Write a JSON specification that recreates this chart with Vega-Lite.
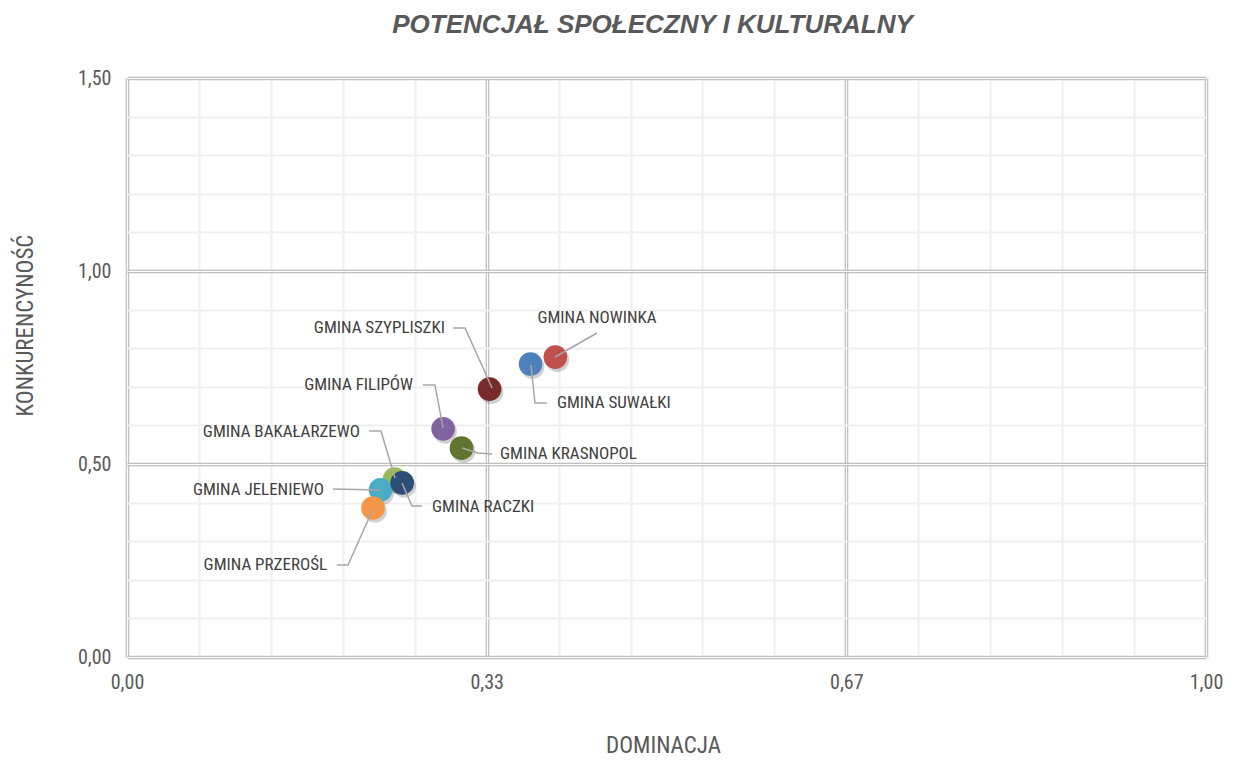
{
  "$schema": "https://vega.github.io/schema/vega-lite/v6.json",
  "width": 1079,
  "height": 579,
  "autosize": {"type": "none"},
  "padding": {"left": 127, "top": 78, "right": 30, "bottom": 103},
  "background": "white",
  "title": {
    "text": "POTENCJAŁ SPOŁECZNY I KULTURALNY",
    "font": "Liberation Sans",
    "fontSize": 26,
    "fontStyle": "italic",
    "fontWeight": "bold",
    "color": "#595959",
    "anchor": "middle",
    "dx": -14,
    "offset": 30
  },
  "config": {
    "view": {"stroke": null},
    "axis": {"labelFont": "Liberation Sans Narrow, Roboto Condensed, DejaVu Sans Condensed, Roboto, sans-serif", "titleFont": "Liberation Sans Narrow, Roboto Condensed, DejaVu Sans Condensed, Roboto, sans-serif"}
  },
  "resolve": {"axis": {"x": "independent", "y": "independent"}},
  "datasets": {
    "points": [
      {"gmina": "Gmina Bakałarzewo", "x": 0.248, "y": 0.461},
      {"gmina": "Gmina Jeleniewo", "x": 0.235, "y": 0.433},
      {"gmina": "Gmina Przerośl", "x": 0.228, "y": 0.386},
      {"gmina": "Gmina Raczki", "x": 0.255, "y": 0.451},
      {"gmina": "Gmina Filipów", "x": 0.293, "y": 0.591},
      {"gmina": "Gmina Krasnopol", "x": 0.310, "y": 0.541},
      {"gmina": "Gmina Suwałki", "x": 0.374, "y": 0.759},
      {"gmina": "Gmina Nowinka", "x": 0.397, "y": 0.777},
      {"gmina": "Gmina Szypliszki", "x": 0.336, "y": 0.694}
    ],
    "labels": [
      {"gmina": "Gmina Nowinka", "text": "GMINA NOWINKA", "x": 0.4356, "y": 0.878},
      {"gmina": "Gmina Suwałki", "text": "GMINA SUWAŁKI", "x": 0.3985, "y": 0.658},
      {"gmina": "Gmina Szypliszki", "text": "GMINA SZYPLISZKI", "x": 0.2947, "y": 0.852},
      {"gmina": "Gmina Filipów", "text": "GMINA FILIPÓW", "x": 0.2651, "y": 0.705},
      {"gmina": "Gmina Krasnopol", "text": "GMINA KRASNOPOL", "x": 0.3457, "y": 0.526},
      {"gmina": "Gmina Bakałarzewo", "text": "GMINA BAKAŁARZEWO", "x": 0.2159, "y": 0.583},
      {"gmina": "Gmina Jeleniewo", "text": "GMINA JELENIEWO", "x": 0.1826, "y": 0.433},
      {"gmina": "Gmina Raczki", "text": "GMINA RACZKI", "x": 0.2827, "y": 0.389},
      {"gmina": "Gmina Przerośl", "text": "GMINA PRZEROŚL", "x": 0.1854, "y": 0.238}
    ],
    "leaders": [
      {"gmina": "Gmina Nowinka", "seq": 1, "x": 0.3967, "y": 0.7772},
      {"gmina": "Gmina Nowinka", "seq": 2, "x": 0.4356, "y": 0.8394},
      {"gmina": "Gmina Suwałki", "seq": 1, "x": 0.3744, "y": 0.7565},
      {"gmina": "Gmina Suwałki", "seq": 2, "x": 0.3781, "y": 0.658},
      {"gmina": "Gmina Suwałki", "seq": 3, "x": 0.3892, "y": 0.658},
      {"gmina": "Gmina Szypliszki", "seq": 1, "x": 0.3021, "y": 0.8523},
      {"gmina": "Gmina Szypliszki", "seq": 2, "x": 0.3133, "y": 0.8523},
      {"gmina": "Gmina Szypliszki", "seq": 3, "x": 0.3383, "y": 0.6969},
      {"gmina": "Gmina Filipów", "seq": 1, "x": 0.2743, "y": 0.7047},
      {"gmina": "Gmina Filipów", "seq": 2, "x": 0.2854, "y": 0.7047},
      {"gmina": "Gmina Filipów", "seq": 3, "x": 0.2929, "y": 0.5933},
      {"gmina": "Gmina Krasnopol", "seq": 1, "x": 0.3383, "y": 0.5259},
      {"gmina": "Gmina Krasnopol", "seq": 2, "x": 0.3253, "y": 0.5285},
      {"gmina": "Gmina Krasnopol", "seq": 3, "x": 0.3105, "y": 0.5415},
      {"gmina": "Gmina Bakałarzewo", "seq": 1, "x": 0.2243, "y": 0.5855},
      {"gmina": "Gmina Bakałarzewo", "seq": 2, "x": 0.2354, "y": 0.5855},
      {"gmina": "Gmina Bakałarzewo", "seq": 3, "x": 0.2484, "y": 0.4637},
      {"gmina": "Gmina Jeleniewo", "seq": 1, "x": 0.1909, "y": 0.4352},
      {"gmina": "Gmina Jeleniewo", "seq": 2, "x": 0.2345, "y": 0.4326},
      {"gmina": "Gmina Raczki", "seq": 1, "x": 0.2734, "y": 0.3912},
      {"gmina": "Gmina Raczki", "seq": 2, "x": 0.2641, "y": 0.3912},
      {"gmina": "Gmina Raczki", "seq": 3, "x": 0.2549, "y": 0.4508},
      {"gmina": "Gmina Przerośl", "seq": 1, "x": 0.1946, "y": 0.2383},
      {"gmina": "Gmina Przerośl", "seq": 2, "x": 0.2048, "y": 0.2383},
      {"gmina": "Gmina Przerośl", "seq": 3, "x": 0.228, "y": 0.3834}
    ]
  },
  "encoding": {
    "x": {
      "field": "x",
      "type": "quantitative",
      "scale": {"domain": [0, 1], "nice": false, "zero": false},
      "axis": null
    },
    "y": {
      "field": "y",
      "type": "quantitative",
      "scale": {"domain": [0, 1.5], "nice": false, "zero": false},
      "axis": null
    }
  },
  "layer": [
    {
      "data": {"name": "points"},
      "mark": {"type": "circle", "size": 560, "color": "#000000", "opacity": 0.18, "xOffset": 2, "yOffset": 3},
      "encoding": {
        "x": {
          "field": "x",
          "type": "quantitative",
          "scale": {"domain": [0, 1], "nice": false, "zero": false},
          "axis": {
            "orient": "bottom",
            "title": "DOMINACJA",
            "titleFontSize": 23,
            "titleFontWeight": "normal",
            "titleColor": "#595959",
            "titleX": 536,
            "titleY": 88,
            "titleBaseline": "middle",
            "titleAlign": "center",
            "values": [0, 0.0666667, 0.1333333, 0.2, 0.2666667, 0.3333333, 0.4, 0.4666667, 0.5333333, 0.6, 0.6666667, 0.7333333, 0.8, 0.8666667, 0.9333333, 1],
            "labelExpr": "abs(datum.value*3 - round(datum.value*3)) < 0.01 ? replace(format(datum.value, '.2f'), '.', ',') : ''",
            "labelFontSize": 20,
            "labelColor": "#595959",
            "labelPadding": 15,
            "labelFlush": false,
            "labelOverlap": false,
            "ticks": false,
            "domain": false,
            "grid": true,
            "gridColor": {"condition": {"test": "abs(datum.value*3 - round(datum.value*3)) < 0.01", "value": "#bfbfbf"}, "value": "#efefef"},
            "gridWidth": {"condition": {"test": "abs(datum.value*3 - round(datum.value*3)) < 0.01", "value": 3.6}, "value": 2}
          }
        },
        "y": {
          "field": "y",
          "type": "quantitative",
          "scale": {"domain": [0, 1.5], "nice": false, "zero": false},
          "axis": {
            "orient": "left",
            "title": "KONKURENCYNOŚĆ",
            "titleFontSize": 23,
            "titleFontWeight": "normal",
            "titleColor": "#595959",
            "titleX": -102,
            "titleY": 247,
            "titleBaseline": "middle",
            "titleAlign": "center",
            "titleAngle": -90,
            "values": [0, 0.1, 0.2, 0.3, 0.4, 0.5, 0.6, 0.7, 0.8, 0.9, 1, 1.1, 1.2, 1.3, 1.4, 1.5],
            "labelExpr": "abs(datum.value*2 - round(datum.value*2)) < 0.01 ? replace(format(datum.value, '.2f'), '.', ',') : ''",
            "labelFontSize": 20,
            "labelColor": "#595959",
            "labelPadding": 16,
            "labelFlush": false,
            "labelOverlap": false,
            "ticks": false,
            "domain": false,
            "grid": true,
            "gridColor": {"condition": {"test": "abs(datum.value*2 - round(datum.value*2)) < 0.01", "value": "#bfbfbf"}, "value": "#efefef"},
            "gridWidth": {"condition": {"test": "abs(datum.value*2 - round(datum.value*2)) < 0.01", "value": 3.6}, "value": 2}
          }
        }
      }
    },
    {
      "data": {"name": "points"},
      "mark": {"type": "circle", "size": 560, "opacity": 1},
      "encoding": {
        "x": {
          "field": "x",
          "type": "quantitative",
          "scale": {"domain": [0, 1], "nice": false, "zero": false},
          "axis": {
            "orient": "top",
            "title": null,
            "values": [0, 0.3333333, 0.6666667, 1],
            "labels": false,
            "ticks": false,
            "domain": false,
            "grid": true,
            "gridColor": "#ffffff",
            "gridWidth": 1.1
          }
        },
        "y": {
          "field": "y",
          "type": "quantitative",
          "scale": {"domain": [0, 1.5], "nice": false, "zero": false},
          "axis": {
            "orient": "right",
            "title": null,
            "values": [0, 0.5, 1, 1.5],
            "labels": false,
            "ticks": false,
            "domain": false,
            "grid": true,
            "gridColor": "#ffffff",
            "gridWidth": 1.1
          }
        },
        "color": {
          "field": "gmina",
          "type": "nominal",
          "legend": null,
          "scale": {
            "domain": ["Gmina Bakałarzewo", "Gmina Jeleniewo", "Gmina Przerośl", "Gmina Raczki", "Gmina Filipów", "Gmina Krasnopol", "Gmina Suwałki", "Gmina Nowinka", "Gmina Szypliszki"],
            "range": ["#9BBB59", "#4BACC6", "#F79646", "#2C4D75", "#8064A2", "#5F7530", "#4F81BD", "#C0504D", "#772C2A"]
          }
        }
      }
    },
    {
      "data": {"name": "leaders"},
      "mark": {"type": "line", "color": "#a6a6a6", "strokeWidth": 1.5},
      "encoding": {
        "detail": {"field": "gmina"},
        "order": {"field": "seq", "type": "quantitative"}
      }
    },
    {
      "data": {"name": "labels"},
      "transform": [{"filter": {"field": "gmina", "oneOf": ["Gmina Szypliszki", "Gmina Filipów", "Gmina Bakałarzewo", "Gmina Jeleniewo", "Gmina Przerośl"]}}],
      "mark": {"type": "text", "align": "right", "baseline": "middle", "font": "Liberation Sans Narrow, Roboto Condensed, DejaVu Sans Condensed, Roboto, sans-serif", "fontSize": 17, "color": "#404040"},
      "encoding": {"text": {"field": "text"}}
    },
    {
      "data": {"name": "labels"},
      "transform": [{"filter": {"field": "gmina", "oneOf": ["Gmina Suwałki", "Gmina Krasnopol", "Gmina Raczki"]}}],
      "mark": {"type": "text", "align": "left", "baseline": "middle", "font": "Liberation Sans Narrow, Roboto Condensed, DejaVu Sans Condensed, Roboto, sans-serif", "fontSize": 17, "color": "#404040"},
      "encoding": {"text": {"field": "text"}}
    },
    {
      "data": {"name": "labels"},
      "transform": [{"filter": {"field": "gmina", "oneOf": ["Gmina Nowinka"]}}],
      "mark": {"type": "text", "align": "center", "baseline": "middle", "font": "Liberation Sans Narrow, Roboto Condensed, DejaVu Sans Condensed, Roboto, sans-serif", "fontSize": 17, "color": "#404040"},
      "encoding": {"text": {"field": "text"}}
    }
  ]
}
